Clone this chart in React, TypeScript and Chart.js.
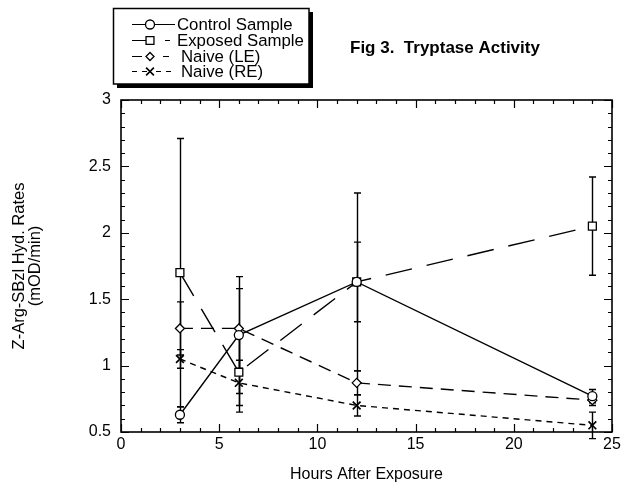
import React, { useEffect, useRef } from "react";
import { Chart, registerables } from "chart.js";

Chart.register(...registerables);

const hours = [3, 6, 12, 24];
const controlMean = [0.63, 1.23, 1.63, 0.77];
const controlErr = [0.06, 0.44, 0.3, 0.05];
const exposedMean = [1.7, 0.95, 1.63, 2.05];
const exposedErr = [1.01, 0.3, 0.67, 0.37];
const naiveLEMean = [1.28, 1.28, 0.87, 0.74];
const naiveLEErr = [0.2, 0.3, 0.09, 0.04];
const naiveREMean = [1.05, 0.87, 0.7, 0.55];
const naiveREErr = [0.07, 0.17, 0.08, 0.1];

const seriesNames = ["Control Sample", "Exposed Sample", "Naive (LE)", "Naive (RE)"];
const chartTitle = "Fig 3.  Tryptase Activity";
const xTitle = "Hours After Exposure";
const yTitle = ["Z-Arg-SBzl Hyd. Rates", "(mOD/min)"];

const FONT = "'Liberation Sans', Arial, Helvetica, sans-serif";

const errorsBySeries = [controlErr, exposedErr, naiveLEErr, naiveREErr];

function drawMarker(ctx: CanvasRenderingContext2D, style: string, x: number, y: number, r: number) {
  ctx.save();
  ctx.lineWidth = 1.3;
  ctx.fillStyle = "#fff";
  ctx.strokeStyle = "#000";
  ctx.beginPath();
  if (style === "circle") {
    ctx.arc(x, y, r, 0, Math.PI * 2);
    ctx.fill();
    ctx.stroke();
  } else if (style === "rect") {
    const s = r * Math.SQRT1_2;
    ctx.rect(x - s, y - s, 2 * s, 2 * s);
    ctx.fill();
    ctx.stroke();
  } else if (style === "rectRot") {
    ctx.moveTo(x, y - r);
    ctx.lineTo(x + r, y);
    ctx.lineTo(x, y + r);
    ctx.lineTo(x - r, y);
    ctx.closePath();
    ctx.fill();
    ctx.stroke();
  } else {
    const d = r * Math.SQRT1_2;
    ctx.lineWidth = 1.6;
    ctx.moveTo(x - d, y - d);
    ctx.lineTo(x + d, y + d);
    ctx.moveTo(x + d, y - d);
    ctx.lineTo(x - d, y + d);
    ctx.stroke();
  }
  ctx.restore();
}

const errorBarPlugin = {
  id: "errorBars",
  beforeDatasetsDraw(chart: any) {
    const { ctx, scales } = chart;
    const xs = scales.x;
    const ys = scales.y;
    ctx.save();
    ctx.strokeStyle = "#000";
    ctx.lineWidth = 1.4;
    chart.data.datasets.forEach((ds: any, i: number) => {
      const errs = errorsBySeries[i];
      ds.data.forEach((pt: any, j: number) => {
        const x = Math.round(xs.getPixelForValue(pt.x)) + 0.5;
        const yTop = ys.getPixelForValue(pt.y + errs[j]);
        const yBot = ys.getPixelForValue(pt.y - errs[j]);
        ctx.beginPath();
        ctx.moveTo(x, yTop);
        ctx.lineTo(x, yBot);
        ctx.moveTo(x - 3.5, yTop);
        ctx.lineTo(x + 3.5, yTop);
        ctx.moveTo(x - 3.5, yBot);
        ctx.lineTo(x + 3.5, yBot);
        ctx.stroke();
      });
    });
    ctx.restore();
  },
};

const framePlugin = {
  id: "frameTicks",
  afterDraw(chart: any) {
    const { ctx, scales, chartArea } = chart;
    const { left, right, top, bottom } = chartArea;
    const xs = scales.x;
    const ys = scales.y;
    ctx.save();
    ctx.strokeStyle = "#000";
    ctx.lineWidth = 1.6;
    ctx.strokeRect(left, top, right - left, bottom - top);
    ctx.lineWidth = 1.2;
    ctx.beginPath();
    for (let v = 0; v <= 25; v += 1) {
      const x = Math.round(xs.getPixelForValue(v)) + 0.5;
      const len = v % 5 === 0 ? 8 : 4;
      ctx.moveTo(x, bottom);
      ctx.lineTo(x, bottom - len);
      ctx.moveTo(x, top);
      ctx.lineTo(x, top + len);
    }
    for (let k = 5; k <= 30; k += 1) {
      const v = k / 10;
      const y = Math.round(ys.getPixelForValue(v)) + 0.5;
      const len = k % 5 === 0 ? 8 : 4;
      ctx.moveTo(left, y);
      ctx.lineTo(left + len, y);
      ctx.moveTo(right, y);
      ctx.lineTo(right - len, y);
    }
    ctx.stroke();
    ctx.restore();
  },
};

const legendPlugin = {
  id: "customLegend",
  afterDraw(chart: any) {
    const { ctx } = chart;
    ctx.save();
    ctx.fillStyle = "#000";
    ctx.fillRect(309, 12, 4, 76);
    ctx.fillRect(117, 84, 196, 4);
    ctx.fillStyle = "#fff";
    ctx.fillRect(113, 8, 196, 76);
    ctx.strokeStyle = "#000";
    ctx.lineWidth = 1.5;
    ctx.strokeRect(113.5, 8.5, 195.5, 75.5);

    const rows = [24, 40, 56, 71];
    const segs = [
      [[132, 175]],
      [[132, 147], [165, 170]],
      [[132, 142], [163, 169]],
      [[132, 137], [142, 147], [156, 161], [166, 171]],
    ];
    const textX = [177, 177, 181, 181];
    const styles = ["circle", "rect", "rectRot", "crossRot"];
    const radii = [4.5, 5.6, 4, 5.5];
    ctx.lineWidth = 1.2;
    rows.forEach((y, i) => {
      ctx.strokeStyle = "#000";
      ctx.beginPath();
      segs[i].forEach(([a, b]) => {
        ctx.moveTo(a, y + 0.5);
        ctx.lineTo(b, y + 0.5);
      });
      ctx.stroke();
      drawMarker(ctx, styles[i], 150, y + 0.5, radii[i]);
      ctx.fillStyle = "#000";
      ctx.font = `16.8px ${FONT}`;
      ctx.textBaseline = "middle";
      ctx.textAlign = "left";
      ctx.fillText(seriesNames[i], textX[i], y + 1);
    });

    ctx.font = `bold 17px ${FONT}`;
    ctx.fillStyle = "#000";
    ctx.textBaseline = "middle";
    ctx.fillText(chartTitle, 350, 48);
    ctx.restore();
  },
};

function toPoints(ys: number[]) {
  return hours.map((h, i) => ({ x: h, y: ys[i] }));
}

export default function App() {
  const ref = useRef<HTMLCanvasElement | null>(null);

  useEffect(() => {
    document.body.style.margin = "0";
    const canvas = ref.current;
    if (!canvas) return;
    const common = {
      borderColor: "#000",
      backgroundColor: "#fff",
      pointBorderColor: "#000",
      pointBackgroundColor: "#fff",
      borderWidth: 1.4,
      pointBorderWidth: 1.3,
      tension: 0,
      fill: false,
      clip: false as any,
    };
    const chart = new Chart(canvas, {
      type: "line",
      data: {
        datasets: [
          { ...common, label: seriesNames[0], data: toPoints(controlMean), pointStyle: "circle", pointRadius: 4.5 },
          { ...common, label: seriesNames[1], data: toPoints(exposedMean), pointStyle: "rect", pointRadius: 5.6, borderDash: [27, 15] },
          { ...common, label: seriesNames[2], data: toPoints(naiveLEMean), pointStyle: "rectRot", pointRadius: 4.5, borderDash: [13, 8] },
          { ...common, label: seriesNames[3], data: toPoints(naiveREMean), pointStyle: "crossRot", pointRadius: 5.5, borderDash: [6, 5], pointBorderWidth: 1.7 },
        ],
      },
      options: {
        animation: false,
        responsive: false,
        devicePixelRatio: 1,
        layout: { padding: { left: 11, top: 100, right: 14, bottom: 7 } },
        plugins: {
          legend: { display: false },
          tooltip: { enabled: false },
          title: { display: false },
        },
        scales: {
          x: {
            type: "linear",
            min: 0,
            max: 25,
            grid: { display: false, drawTicks: false },
            border: { display: false },
            ticks: { stepSize: 5, color: "#000", font: { family: FONT, size: 16 }, padding: 3, maxRotation: 0 },
            title: { display: true, text: xTitle, color: "#000", font: { family: FONT, size: 16 }, padding: { top: 8, bottom: 0 } },
            afterFit: (s: any) => {
              s.height = 491 - 432 - 7;
            },
          },
          y: {
            type: "linear",
            min: 0.5,
            max: 3,
            grid: { display: false, drawTicks: false },
            border: { display: false },
            ticks: {
              stepSize: 0.5,
              color: "#000",
              font: { family: FONT, size: 16 },
              padding: 10,
              callback: (v: any) => String(Number(v)),
            },
            title: { display: true, text: yTitle, color: "#000", font: { family: FONT, size: 16.5, lineHeight: 1.0 }, padding: { top: 0, bottom: 0 } },
            afterFit: (s: any) => {
              s.width = 121 - 11;
            },
          },
        },
      },
      plugins: [errorBarPlugin, framePlugin, legendPlugin],
    } as any);
    return () => chart.destroy();
  }, []);

  return (
    <div style={{ width: 626, height: 491, background: "#fff" }}>
      <canvas ref={ref} width={626} height={491} style={{ display: "block" }} />
    </div>
  );
}
